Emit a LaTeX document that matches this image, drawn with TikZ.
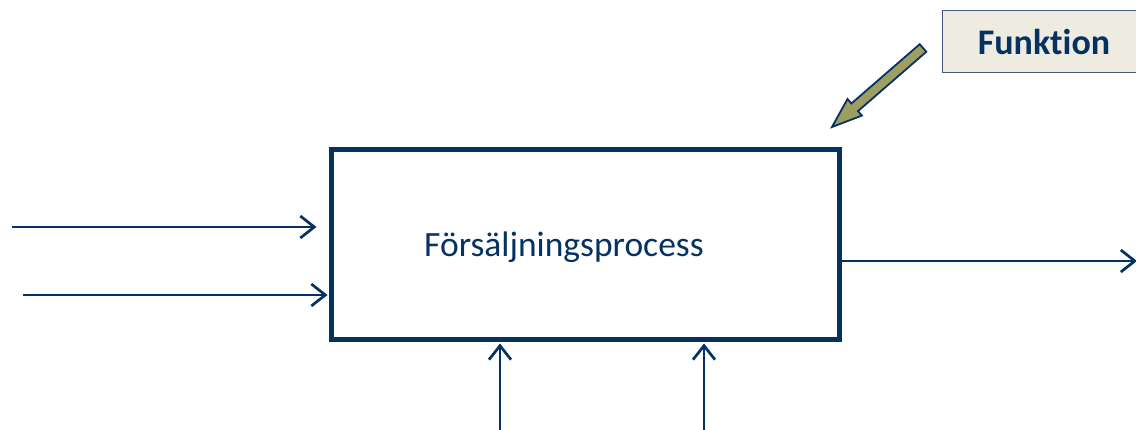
\documentclass[tikz,border=0pt]{standalone}
\usepackage{fontspec}
\setmainfont[Ligatures=NoCommon]{Carlito}
\usetikzlibrary{arrows.meta,calc}
\definecolor{navy}{RGB}{6,50,98}
\definecolor{olive}{RGB}{158,158,98}
\definecolor{paper}{RGB}{238,236,225}
\definecolor{frame}{RGB}{70,90,130}
\tikzset{
  flow/.style={draw=navy, line width=2.7pt, -{Straight Barb[length=14pt,width=22pt,line width=2.7pt]}},
  procbox/.style={draw=navy, line width=5pt, minimum width=508pt, minimum height=190pt, inner sep=0pt},
  tagbox/.style={draw=frame, line width=1pt, fill=paper, minimum width=210pt, minimum height=62pt},
  boxtext/.style={text=navy, font=\fontsize{35.5}{40}\selectfont},
  tagtext/.style={text=navy, font=\fontsize{36}{40}\selectfont\bfseries}
}
\begin{document}
\begin{tikzpicture}[x=1pt,y=-1pt]
\useasboundingbox (0,0) rectangle (1136,430);
\node[procbox] (box) at (585,245) {};
\node[boxtext] (lbl) at (564,247) {Försäljningsprocess};
\node[tagbox, anchor=north west] (tag) at (942,10) {};
\node[tagtext] (taglbl) at (1044,42) {Funktion};
\coordinate (in1) at (12,227);
\coordinate (in2) at (23,295);
\coordinate (out) at (1137,261);
\coordinate (b1) at (500,431);
\coordinate (b2) at (704,431);
\draw[flow, shorten >=12pt] (in1) -- (in1 -| box.west);
\draw[flow, shorten >=1pt] (in2) -- (in2 -| box.west);
\draw[flow] (out -| box.east) -- (out);
\draw[flow, shorten >=1pt] (b1) -- (b1 |- box.south);
\draw[flow, shorten >=1pt] (b2) -- (b2 |- box.south);
\draw[draw=navy, fill=olive, line width=1.8pt, line join=miter]
  (832,127) -- (847.5,99.0) -- (851.4,103.5) -- (919.7,44.2) -- (926.3,51.8) -- (858.0,111.1) -- (861.9,115.6) -- cycle;
\end{tikzpicture}
\end{document}
